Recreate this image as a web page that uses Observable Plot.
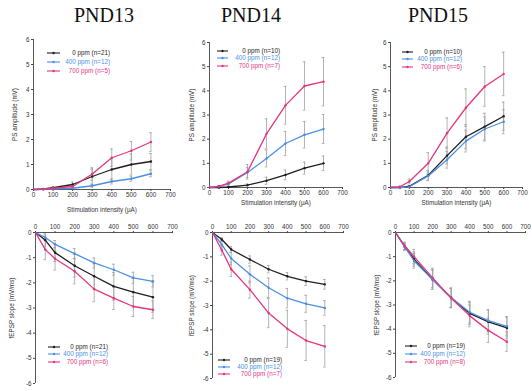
<!DOCTYPE html>
<html>
<head>
<meta charset="utf-8">
<script src="https://cdn.jsdelivr.net/npm/d3@7"></script>
<script src="https://cdn.jsdelivr.net/npm/@observablehq/plot@0.6"></script>
<style>
  html, body { margin: 0; padding: 0; background: #fff; }
  #root { position: relative; width: 532px; height: 391px; overflow: hidden; font-family: "Liberation Sans", Arial, sans-serif; }
  .title { position: absolute; font-family: "Liberation Serif", "Times New Roman", serif; font-weight: 400; font-size: 20px; line-height: 20px; transform: translateX(-50%); color: #111; white-space: nowrap; }
  .panel { position: absolute; }
  .leg { position: absolute; font-size: 6.3px; line-height: 7px; white-space: nowrap; }
</style>
</head>
<body>
<div id="root"></div>
<script>
// ---------------- data ----------------
const panelTitles = ["PND13", "PND14", "PND15"];
const intensities = [0, 50, 100, 200, 300, 400, 500, 600];
const xTicks = [0, 100, 200, 300, 400, 500, 600, 700];
const psTicks = [0, 1, 2, 3, 4, 5, 6];
const slopeTicks = [0, -1, -2, -3, -4, -5, -6];
const groupNames = ["0 ppm", "400 ppm", "700 ppm"];

// PS amplitude (mV), mean and SEM
const ps13_0   = [0, 0.02, 0.07, 0.20, 0.52, 0.80, 1.00, 1.12];
const ps13_0e  = [0, 0.02, 0.04, 0.10, 0.30, 0.42, 0.42, 0.32];
const ps13_400 = [0, 0.01, 0.03, 0.05, 0.15, 0.32, 0.43, 0.63];
const ps13_400e= [0, 0.01, 0.02, 0.03, 0.06, 0.10, 0.10, 0.12];
const ps13_700 = [0, 0.01, 0.05, 0.12, 0.62, 1.27, 1.55, 1.90];
const ps13_700e= [0, 0.01, 0.03, 0.06, 0.25, 0.35, 0.37, 0.37];

const ps14_0   = [0, 0.00, 0.02, 0.10, 0.28, 0.52, 0.80, 1.00];
const ps14_0e  = [0, 0.00, 0.02, 0.05, 0.15, 0.20, 0.25, 0.30];
const ps14_400 = [0, 0.05, 0.15, 0.62, 1.20, 1.82, 2.18, 2.42];
const ps14_400e= [0, 0.02, 0.05, 0.20, 0.35, 0.50, 0.55, 0.60];
const ps14_700 = [0, 0.05, 0.18, 0.65, 2.22, 3.40, 4.20, 4.38];
const ps14_700e= [0, 0.03, 0.08, 0.30, 0.62, 0.78, 1.00, 1.00];

const ps15_0   = [0, 0.00, 0.05, 0.50, 1.32, 2.10, 2.52, 2.95];
const ps15_0e  = [0, 0.00, 0.03, 0.20, 0.35, 0.50, 0.55, 0.58];
const ps15_400 = [0, 0.00, 0.03, 0.48, 1.15, 1.92, 2.42, 2.72];
const ps15_400e= [0, 0.00, 0.03, 0.20, 0.35, 0.45, 0.50, 0.50];
const ps15_700 = [0, 0.03, 0.25, 1.00, 2.25, 3.30, 4.18, 4.70];
const ps15_700e= [0, 0.02, 0.10, 0.44, 0.63, 0.78, 0.82, 0.90];

// fEPSP slope (mV/ms), mean and SEM
const sl13_0   = [0, -0.30, -0.80, -1.32, -1.74, -2.14, -2.37, -2.57];
const sl13_0e  = [0, 0.25, 0.35, 0.45, 0.50, 0.55, 0.55, 0.60];
const sl13_400 = [0, -0.20, -0.47, -0.84, -1.21, -1.48, -1.80, -1.94];
const sl13_400e= [0, 0.10, 0.15, 0.20, 0.20, 0.22, 0.22, 0.22];
const sl13_700 = [0, -0.68, -1.04, -1.54, -2.25, -2.61, -2.94, -3.07];
const sl13_700e= [0, 0.40, 0.45, 0.50, 0.50, 0.45, 0.40, 0.35];

const sl14_0   = [0, -0.29, -0.70, -1.11, -1.51, -1.80, -2.00, -2.13];
const sl14_0e  = [0, 0.08, 0.12, 0.15, 0.15, 0.15, 0.18, 0.20];
const sl14_400 = [0, -0.50, -1.07, -1.72, -2.27, -2.70, -2.93, -3.10];
const sl14_400e= [0, 0.15, 0.25, 0.35, 0.40, 0.40, 0.35, 0.30];
const sl14_700 = [0, -0.73, -1.51, -2.35, -3.31, -3.96, -4.44, -4.68];
const sl14_700e= [0, 0.20, 0.30, 0.35, 0.60, 0.76, 0.82, 0.85];

const sl15_0   = [0, -0.60, -1.10, -1.95, -2.70, -3.35, -3.70, -3.95];
const sl15_0e  = [0, 0.15, 0.30, 0.40, 0.40, 0.45, 0.50, 0.45];
const sl15_400 = [0, -0.58, -1.18, -1.95, -2.70, -3.30, -3.65, -3.88];
const sl15_400e= [0, 0.15, 0.30, 0.40, 0.40, 0.45, 0.45, 0.40];
const sl15_700 = [0, -0.55, -1.00, -1.88, -2.72, -3.45, -4.05, -4.52];
const sl15_700e= [0, 0.15, 0.30, 0.40, 0.40, 0.45, 0.50, 0.40];

// legend n values per panel
const nTop    = [["n=21", "n=12", "n=5"], ["n=10", "n=12", "n=7"], ["n=10", "n=12", "n=6"]];
const nBottom = [["n=21", "n=12", "n=6"], ["n=19", "n=12", "n=7"], ["n=19", "n=12", "n=8"]];

// ---------------- style ----------------
const colors = ["#1e1e1e", "#4a8fe6", "#e5357f"];
const errColor = "#a0a0a0";
const root = document.getElementById("root");

function rows(vals, errs) {
  return intensities.map((x, i) => ({ x, y: vals[i], e: errs[i] }));
}

function panel({ series, top, pos, m, yLabel, yTicks, yDomain, labelOffY, xLabelOffset }) {
  const marks = [];
  const all = series.map(s => rows(s[0], s[1]));
  all.forEach(r => {
    const withErr = r.filter(d => d.e > 0);
    marks.push(Plot.ruleX(withErr, { x: "x", y1: d => d.y - d.e, y2: d => d.y + d.e, stroke: errColor, strokeWidth: 0.8 }));
    marks.push(Plot.ruleY(withErr, { y: d => d.y + d.e, x1: d => d.x - 7, x2: d => d.x + 7, stroke: errColor, strokeWidth: 0.8 }));
    marks.push(Plot.ruleY(withErr, { y: d => d.y - d.e, x1: d => d.x - 7, x2: d => d.x + 7, stroke: errColor, strokeWidth: 0.8 }));
  });
  marks.push(Plot.ruleY([0], { stroke: "#444", strokeWidth: 0.9 }));
  marks.push(Plot.ruleX([0], { stroke: "#444", strokeWidth: 0.9 }));
  marks.push(Plot.axisX({
    anchor: top ? "bottom" : "top", ticks: xTicks, tickSize: 2, tickPadding: 1.5, tickFormat: d => String(d),
    label: top ? "Stimulation intensity (\u03bcA)" : null, labelAnchor: "center", labelArrow: "none",
    labelOffset: xLabelOffset, fill: "#333", stroke: "#444"
  }));
  marks.push(Plot.axisY({
    anchor: "left", ticks: yTicks, tickSize: 2, tickPadding: 2, tickFormat: d => String(d),
    label: yLabel, labelAnchor: "center", labelArrow: "none", labelOffset: labelOffY,
    fill: "#333", stroke: "#444"
  }));
  all.forEach((r, k) => {
    marks.push(Plot.line(r, { x: "x", y: "y", stroke: colors[k], strokeWidth: 1.3 }));
    marks.push(Plot.dot(r.filter(d => d.x > 0), { x: "x", y: "y", r: 1.2, fill: colors[k] }));
  });
  const svg = Plot.plot({
    width: pos.w, height: pos.h,
    marginLeft: m[3], marginRight: m[1], marginTop: m[0], marginBottom: m[2],
    x: { domain: [0, 700] },
    y: { domain: yDomain },
    style: { fontFamily: "Liberation Sans, Arial, sans-serif", fontSize: "6.3px", background: "transparent", overflow: "visible", color: "#333" },
    marks
  });
  const wrap = document.createElement("div");
  wrap.className = "panel";
  wrap.style.left = pos.l + "px";
  wrap.style.top = pos.t + "px";
  wrap.appendChild(svg);
  root.appendChild(wrap);
}

function legend(names, ns, segX1, segX2, textRight, ys) {
  names.forEach((nm, k) => {
    const y = ys[k];
    const s = document.createElementNS("http://www.w3.org/2000/svg", "svg");
    s.setAttribute("width", 20); s.setAttribute("height", 6);
    s.style.position = "absolute";
    s.style.left = (segX1 - 2) + "px"; s.style.top = (y - 3) + "px";
    const w = segX2 - segX1;
    s.innerHTML = `<line x1="2" y1="3" x2="${2 + w}" y2="3" stroke="${colors[k]}" stroke-width="1.1"/><circle cx="${2 + w / 2}" cy="3" r="1.2" fill="${colors[k]}"/>`;
    root.appendChild(s);
    const t = document.createElement("div");
    t.className = "leg";
    t.textContent = `${nm} (${ns[k]})`;
    t.style.color = colors[k];
    t.style.right = (532 - textRight) + "px";
    t.style.top = (y - 3.6) + "px";
    t.style.textAlign = "right";
    root.appendChild(t);
  });
}

[[104, 5], [251, 5], [438, 5]].forEach(([x, y], i) => {
  const d = document.createElement("div");
  d.className = "title";
  d.style.left = x + "px"; d.style.top = y + "px";
  d.textContent = panelTitles[i];
  root.appendChild(d);
});

const psLabel = "PS amplitude (mV)";
const slLabel = "fEPSP slope (mV/ms)";

panel({ series: [[ps13_0, ps13_0e], [ps13_400, ps13_400e], [ps13_700, ps13_700e]], top: true,
  pos: { l: 0, t: 30, w: 178, h: 190 }, m: [9, 8, 31, 33], yLabel: psLabel, yTicks: psTicks, yDomain: [0, 6], labelOffY: 21, xLabelOffset: 22 });
panel({ series: [[ps14_0, ps14_0e], [ps14_400, ps14_400e], [ps14_700, ps14_700e]], top: true,
  pos: { l: 178, t: 30, w: 176, h: 190 }, m: [12, 12, 33, 31], yLabel: psLabel, yTicks: psTicks, yDomain: [0, 6], labelOffY: 20, xLabelOffset: 17 });
panel({ series: [[ps15_0, ps15_0e], [ps15_400, ps15_400e], [ps15_700, ps15_700e]], top: true,
  pos: { l: 356, t: 30, w: 176, h: 190 }, m: [12, 10, 33, 34], yLabel: psLabel, yTicks: psTicks, yDomain: [0, 6], labelOffY: 18, xLabelOffset: 17 });

panel({ series: [[sl13_0, sl13_0e], [sl13_400, sl13_400e], [sl13_700, sl13_700e]], top: false,
  pos: { l: 0, t: 215, w: 178, h: 176 }, m: [17, 6, 8, 35], yLabel: slLabel, yTicks: slopeTicks, yDomain: [-6, 0], labelOffY: 26, xLabelOffset: 0 });
panel({ series: [[sl14_0, sl14_0e], [sl14_400, sl14_400e], [sl14_700, sl14_700e]], top: false,
  pos: { l: 178, t: 215, w: 176, h: 176 }, m: [17, 11, 13, 34], yLabel: slLabel, yTicks: slopeTicks, yDomain: [-6, 0], labelOffY: 23, xLabelOffset: 0 });
panel({ series: [[sl15_0, sl15_0e], [sl15_400, sl15_400e], [sl15_700, sl15_700e]], top: false,
  pos: { l: 356, t: 215, w: 176, h: 176 }, m: [17, 7, 14, 39], yLabel: slLabel, yTicks: slopeTicks, yDomain: [-6, 0], labelOffY: 21, xLabelOffset: 0 });

legend(groupNames, nTop[0], 47, 60, 110, [53, 62, 71]);
legend(groupNames, nTop[1], 217, 228, 280, [51, 58, 66]);
legend(groupNames, nTop[2], 402, 413, 462, [52, 59, 67]);
legend(groupNames, nBottom[0], 48, 60, 108, [347, 354, 362]);
legend(groupNames, nBottom[1], 218, 230, 282, [360, 367, 374]);
legend(groupNames, nBottom[2], 405, 417, 465, [346, 354, 362]);
</script>
</body>
</html>
